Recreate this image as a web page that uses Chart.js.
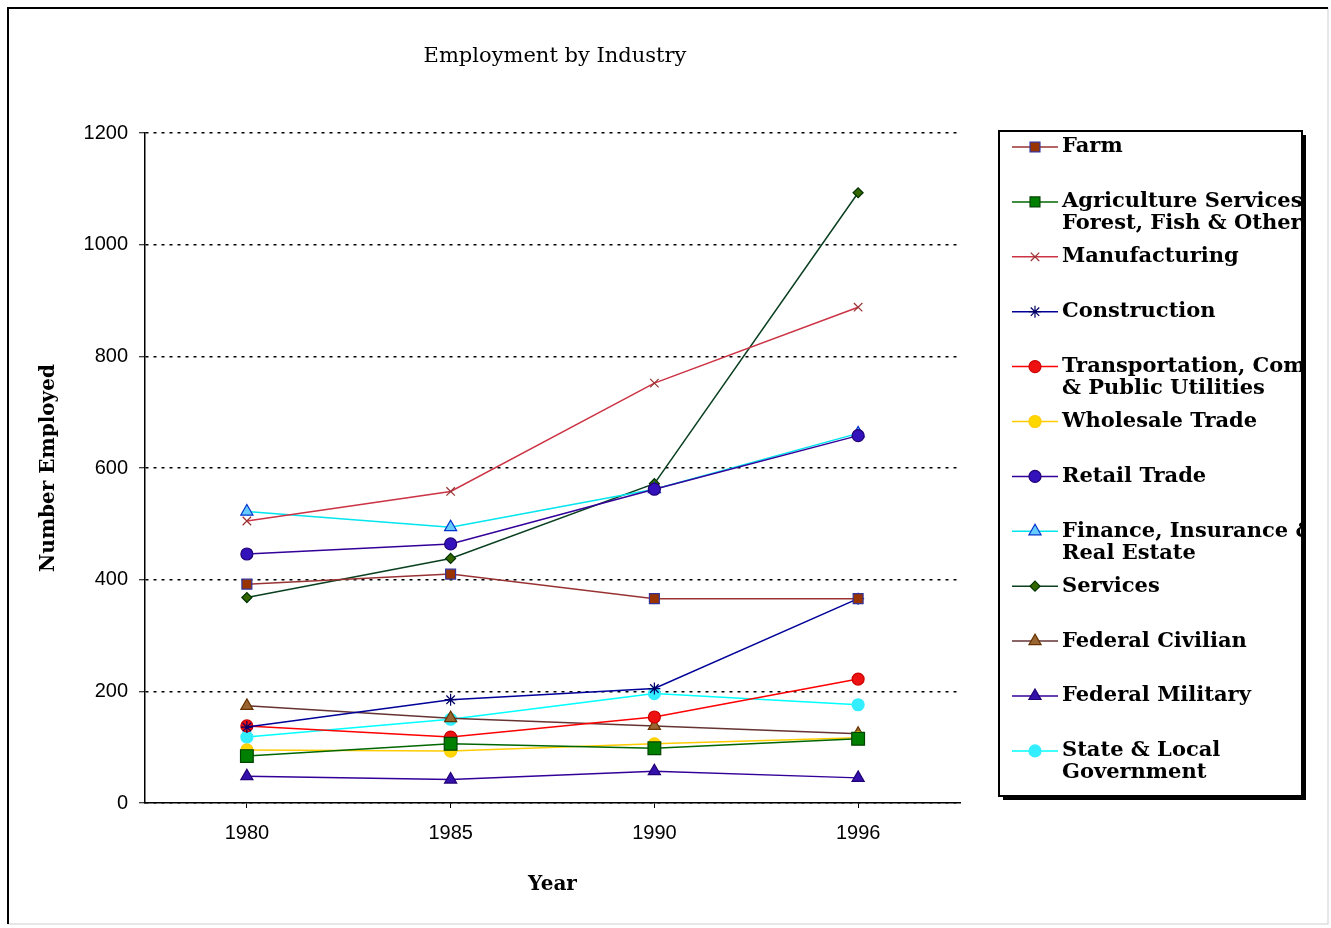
<!DOCTYPE html>
<html>
<head>
<meta charset="utf-8">
<title>Employment by Industry</title>
<script src="https://cdn.jsdelivr.net/npm/chart.js@4.4.1/dist/chart.umd.min.js"></script>
<style>
  body { margin: 0; background: #fff; }
  canvas { display: block; }
</style>
</head>
<body>
<canvas id="employmentChart" width="1331" height="928"></canvas>
<script>
// Employment by Industry (number employed)
const years = ['1980', '1985', '1990', '1996'];
const yTicks = [0, 200, 400, 600, 800, 1000, 1200];

const farm           = [392, 410, 366, 366];
const agServices     = [84, 106, 98, 115];
const manufacturing  = [505, 558, 752, 888];
const construction   = [136, 185, 205, 366];
const transportation = [138, 118, 154, 222];
const wholesale      = [95, 93, 106, 117];
const retail         = [446, 464, 562, 658];
const finance        = [522, 494, 562, 662];
const services       = [368, 438, 572, 1093];
const fedCivilian    = [174, 152, 138, 124];
const fedMilitary    = [48, 42, 57, 45];
const stateLocal     = [118, 150, 196, 176];

const seriesNames = [
  ['Farm'],
  ['Agriculture Services', 'Forest, Fish & Other'],
  ['Manufacturing'],
  ['Construction'],
  ['Transportation, Communication', '& Public Utilities'],
  ['Wholesale Trade'],
  ['Retail Trade'],
  ['Finance, Insurance &', 'Real Estate'],
  ['Services'],
  ['Federal Civilian'],
  ['Federal Military'],
  ['State & Local', 'Government']
];
const seriesData = [farm, agServices, manufacturing, construction, transportation, wholesale,
  retail, finance, services, fedCivilian, fedMilitary, stateLocal];

// line colour, marker fill, marker border, marker style, marker radius
const looks = [
  ['#993333', '#993300', '#333399', 'rect', 7],
  ['#006600', '#008000', '#004400', 'rect', 9],
  ['#CC3344', '#993333', '#993333', 'crossRot', 6],
  ['#000099', '#0000CC', '#000066', 'star', 6],
  ['#FF0000', '#EE1111', '#CC0000', 'circle', 6],
  ['#FFCC00', '#FFD700', '#FFCC00', 'circle', 6],
  ['#330099', '#3311BB', '#220077', 'circle', 6],
  ['#00E5EE', '#66CCFF', '#0033CC', 'triangle', 7],
  ['#0A4020', '#336600', '#003300', 'rectRot', 5],
  ['#663333', '#996633', '#663300', 'triangle', 7],
  ['#330099', '#3311AA', '#220077', 'triangle', 7],
  ['#00FFFF', '#33EEFF', '#33EEFF', 'circle', 6]
];

const datasets = seriesData.map((d, i) => ({
  label: seriesNames[i].join(' '),
  data: d,
  borderColor: looks[i][0],
  backgroundColor: looks[i][1],
  pointBackgroundColor: looks[i][1],
  pointBorderColor: looks[i][2],
  pointStyle: looks[i][3],
  pointRadius: looks[i][4],
  pointBorderWidth: 1.2,
  borderWidth: 1.5,
  tension: 0,
  fill: false
}));

const SERIF = '"DejaVu Serif", "Liberation Serif", serif';
const SANS = '"Liberation Sans", Arial, sans-serif';

// Title, frame and the boxed legend
const decorPlugin = {
  id: 'decor',
  afterDraw(chart) {
    const ctx = chart.ctx;
    ctx.save();
    // outer frame
    ctx.strokeStyle = '#cfcfcf';
    ctx.lineWidth = 1;
    ctx.strokeRect(8, 8, 1320, 916);
    ctx.strokeStyle = '#000';
    ctx.lineWidth = 2;
    ctx.beginPath();
    ctx.moveTo(8, 924); ctx.lineTo(8, 8); ctx.lineTo(1328, 8);
    ctx.stroke();

    // title
    ctx.fillStyle = '#000';
    ctx.font = '21px ' + SERIF;
    ctx.textAlign = 'center';
    ctx.textBaseline = 'middle';
    ctx.fillText('Employment by Industry', 555, 57);

    // legend box with shadow
    const bx = 999, by = 131, bw = 303, bh = 665;
    ctx.fillStyle = '#000';
    ctx.fillRect(bx + bw, by + 4, 4, bh);
    ctx.fillRect(bx + 4, by + bh, bw, 4);
    ctx.fillStyle = '#fff';
    ctx.fillRect(bx, by, bw, bh);
    ctx.strokeStyle = '#000';
    ctx.lineWidth = 2;
    ctx.strokeRect(bx, by, bw, bh);

    ctx.beginPath();
    ctx.rect(bx + 1, by + 1, bw - 2, bh - 2);
    ctx.clip();
    chart.data.datasets.forEach((ds, i) => {
      const y = 147 + i * 54.9;
      ctx.strokeStyle = ds.borderColor;
      ctx.lineWidth = 1.5;
      ctx.beginPath();
      ctx.moveTo(1012, y); ctx.lineTo(1058, y);
      ctx.stroke();
      ctx.fillStyle = ds.pointBackgroundColor;
      ctx.strokeStyle = ds.pointBorderColor;
      ctx.lineWidth = 1.2;
      Chart.helpers.drawPoint(ctx, {
        pointStyle: ds.pointStyle, radius: Math.min(ds.pointRadius, 7), rotation: 0, borderWidth: 1.2
      }, 1035, y);
      ctx.fillStyle = '#000';
      ctx.font = 'bold 21px ' + SERIF;
      ctx.textAlign = 'left';
      ctx.textBaseline = 'middle';
      seriesNames[i].forEach((line, k) => ctx.fillText(line, 1062, y + k * 22));
    });
    ctx.restore();
  }
};

const ctx = document.getElementById('employmentChart').getContext('2d');
new Chart(ctx, {
  type: 'line',
  data: { labels: years, datasets: datasets },
  plugins: [decorPlugin],
  options: {
    responsive: false,
    animation: false,
    devicePixelRatio: 1,
    layout: { padding: { left: 30, top: 133, right: 371, bottom: 0 } },
    plugins: {
      legend: { display: false },
      title: { display: false },
      tooltip: { enabled: false }
    },
    scales: {
      x: {
        offset: true,
        afterFit(scale) { scale.height = 125; },
        grid: { display: true, drawOnChartArea: false, drawTicks: true, tickLength: 5, color: '#000', tickWidth: 1 },
        border: { display: true, color: '#000', width: 1.5 },
        ticks: { color: '#000', font: { family: SANS, size: 20 }, padding: 13, maxRotation: 0 },
        title: { display: true, text: 'Year', color: '#000', font: { family: SERIF, size: 20, weight: 'bold' }, padding: { top: 0, bottom: 31 } }
      },
      y: {
        min: 0,
        max: 1200,
        afterFit(scale) { scale.width = 115; },
        afterBuildTicks(scale) { scale.ticks = yTicks.map(v => ({ value: v })); },
        grid: { color: '#000', lineWidth: 1.5, tickLength: 6, tickWidth: 1 },
        border: { display: true, color: '#000', width: 1.5, dash: [3, 5] },
        ticks: { color: '#000', font: { family: SANS, size: 20 }, padding: 11, callback: v => String(v) },
        title: { display: true, text: 'Number Employed', color: '#000', font: { family: SERIF, size: 20, weight: 'bold' }, padding: { top: 7, bottom: 0 } }
      }
    }
  }
});
</script>
</body>
</html>
